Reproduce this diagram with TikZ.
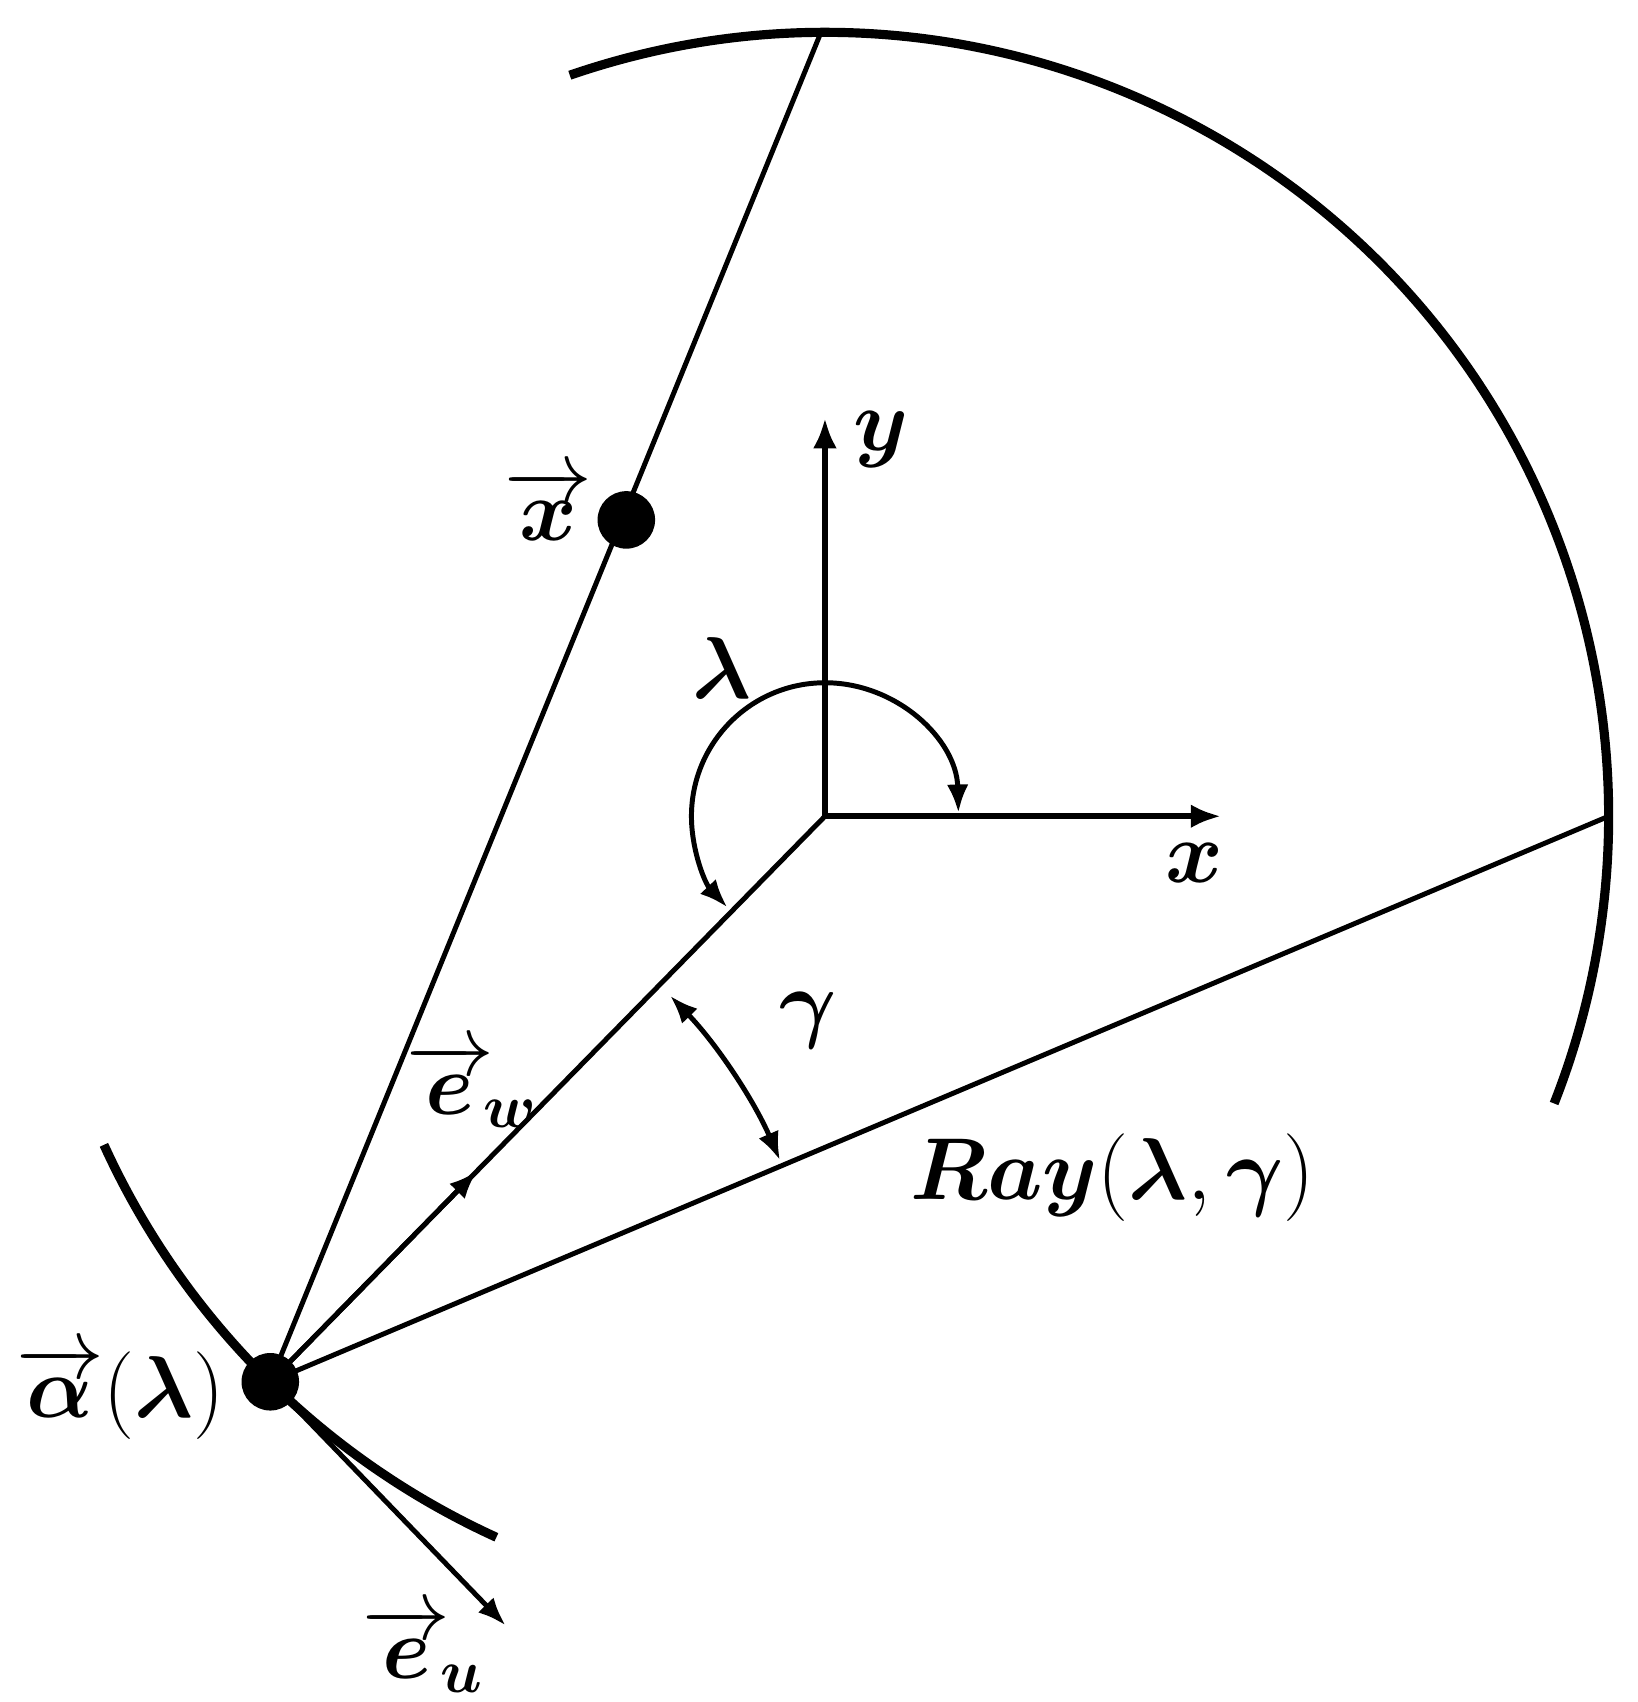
\documentclass[tikz,border=0pt]{standalone}
\usepackage{fix-cm}
\usepackage{amsmath}
\usepackage{bm}
\usetikzlibrary{arrows.meta,calc}
\tikzset{
 thinline/.style={line width=1.3pt},
 thickarc/.style={line width=2.4pt},
 axisline/.style={line width=1.7pt,-{Latex[length=2.8mm,width=2.2mm]}},
 vecline/.style={line width=1.3pt,-{Latex[length=2.6mm,width=2mm]}},
 angarrow/.style={line width=1.3pt,{Latex[length=2.6mm,width=2mm]}-{Latex[length=2.6mm,width=2mm]}},
 lbl/.style={inner sep=0pt,font=\fontsize{23}{28}\selectfont},
 dotnode/.style={circle,fill=black,inner sep=0pt,minimum size=5.3mm}
}
\begin{document}
\begin{tikzpicture}
\useasboundingbox (0,0) rectangle (15.09,15.68);
\coordinate (O) at (7.60,8.16);
\coordinate (A) at (2.49,2.95);
\coordinate (T) at ($(O)+(90.3:7.22)$);
\coordinate (R) at ($(O)+(0:7.22)$);
\coordinate (X) at (5.77,10.89);
\coordinate (Ytip) at ($(O)+(0,3.67)$);
\coordinate (Xtip) at ($(O)+(3.65,0)$);
\coordinate (Ew) at ($(A)!2.72cm!(O)$);
\coordinate (Eu) at ($(A)+(-46:3.12)$);
% big arc
\draw[thickarc] (O) ++(109:7.22) arc[start angle=109,end angle=-21.5,radius=7.22];
% source trajectory
\draw[thickarc] (O) ++(204.5:7.30) arc[start angle=204.5,end angle=245.5,radius=7.30];
\draw[thinline] (A) -- (T);
\draw[thinline] (A) -- (O);
\draw[thinline] (A) -- (R);
\draw[vecline] (A) -- (Ew);
\draw[vecline] (A) -- (Eu);
\draw[axisline] (O) -- (Ytip);
\draw[axisline] (O) -- (Xtip);
\draw[angarrow] (O) ++(1.5:1.23) arc[start angle=1.5,end angle=223,radius=1.23];
\draw[angarrow] (A) ++(23.5:5.12) arc[start angle=23.5,end angle=44,radius=5.12];
\node[dotnode] (adot) at (A) {};
\node[dotnode] (xdot) at (X) {};
\node[lbl] (ylab) at (8.12,11.63) {$\bm{y}$};
\node[lbl] (xlab) at (11.00,7.73) {$\bm{x}$};
\node[lbl] (lamlab) at (6.65,9.53) {$\bm{\lambda}$};
\node[lbl] (gamlab) at (7.45,6.28) {$\bm{\gamma}$};
\node[lbl] (xveclab) at (5.05,11.03) {$\overrightarrow{\bm{x}}$};
\node[lbl] (alab) at (1.11,2.85) {$\overrightarrow{\bm{\alpha}}(\bm{\lambda})$};
\node[lbl] (ewlab) at (4.35,5.68) {${\overrightarrow{\bm{e}}}_{\!\bm{w}}$};
\node[lbl] (eulab) at (3.90,0.48) {${\overrightarrow{\bm{e}}}_{\!\bm{u}}$};
\node[lbl] (raylab) at (10.25,4.83) {$\bm{Ray}(\bm{\lambda},\bm{\gamma})$};
\end{tikzpicture}
\end{document}
